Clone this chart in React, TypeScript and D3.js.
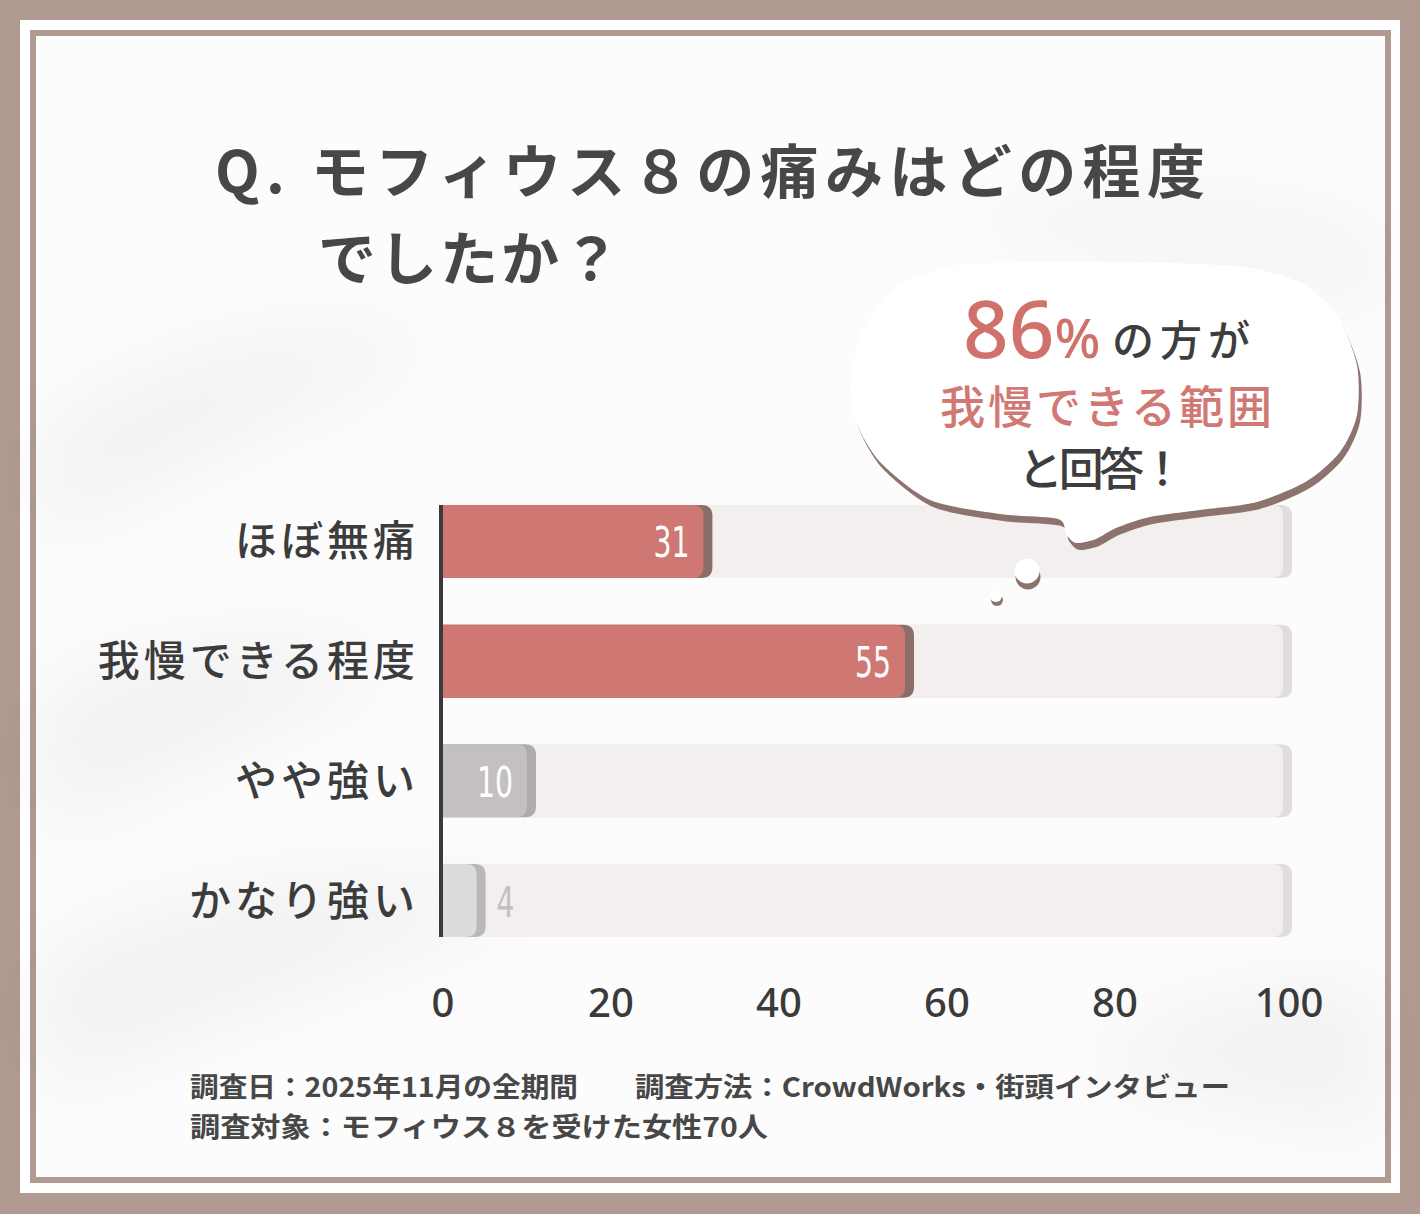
import React from 'react';
import * as d3 from 'd3';

// chart values
const categories = ['ほぼ無痛', '我慢できる程度', 'やや強い', 'かなり強い'];
const values = [31, 55, 10, 4];
const tickValues = [0, 20, 40, 60, 80, 100];

const titleLines = ['Q. モフィウス８の痛みはどの程度', 'でしたか？'];
const footerLine1a = '調査日：2025年11月の全期間';
const footerLine1b = '調査方法：CrowdWorks・街頭インタビュー';
const footerLine2 = '調査対象：モフィウス８を受けた女性70人';

const W = 1420;
const H = 1214;
const JP = '"Noto Sans CJK JP", "Noto Sans", sans-serif';

// bar palette (fill, right-edge shadow)
const barFill = ['#cf7873', '#cf7873', '#c3c0bf', '#dddbdb'];
const barEdge = ['#8c6e69', '#8c6e69', '#adabab', '#b9b7b7'];

// speech bubble outline
const bubblePts: [number, number][] = [
  [850, 385], [864, 328], [902, 284], [960, 265], [1040, 262], [1120, 262],
  [1200, 264], [1256, 269], [1305, 285], [1338, 317], [1357, 365], [1357, 415],
  [1340, 452], [1307, 481], [1257, 502], [1200, 510], [1150, 517], [1116, 528],
  [1096, 539], [1076, 543], [1066, 534], [1058, 519], [1000, 514], [930, 500],
  [880, 462], [856, 422],
];

const App: React.FC = () => {
  const x = d3.scaleLinear().domain([0, 100]).range([443, 1283]);
  const y = d3.scaleBand<string>().domain(categories).range([505, 937]).paddingInner(0.39);
  const bw = y.bandwidth();
  const r = 11;

  // rounded right end, square left end
  const barPath = (x0: number, x1: number, y0: number, h: number) => {
    const rr = Math.min(r, (x1 - x0) / 2);
    return `M${x0},${y0}H${x1 - rr}Q${x1},${y0} ${x1},${y0 + rr}V${y0 + h - rr}Q${x1},${y0 + h} ${x1 - rr},${y0 + h}H${x0}Z`;
  };

  const bubble = d3.line().curve(d3.curveCardinalClosed.tension(0.2))(bubblePts) || '';

  return (
    <svg width={W} height={H} style={{ position: 'absolute', left: 0, top: 0, display: 'block' }}>
      <defs>
        <filter id="soft" x="-50%" y="-50%" width="200%" height="200%">
          <feGaussianBlur stdDeviation="40" />
        </filter>
      </defs>

      {/* frame */}
      <rect x={0} y={0} width={W} height={H} fill="#b09a92" />
      <rect x={20} y={20} width={1380} height={1173} fill="#ffffff" />
      <rect x={33} y={33} width={1355} height={1147} fill="#fcfcfc" stroke="#b09a92" strokeWidth={6} />

      {/* faint leaf shadows */}
      <g filter="url(#soft)" opacity={0.045} fill="#000">
        <path d="M40,440 C160,350 300,320 440,340 C330,400 200,450 40,540 Z" />
        <path d="M40,700 C150,640 280,630 400,660 C280,730 150,780 40,830 Z" />
        <path d="M40,960 C200,880 380,860 540,900 C380,960 200,1030 40,1090 Z" />
        <path d="M1080,1060 C1200,1000 1300,980 1380,990 L1380,1130 C1290,1110 1200,1100 1080,1060 Z" />
        <path d="M950,220 C1080,190 1220,200 1380,240 L1380,300 C1220,270 1080,250 950,220 Z" />
      </g>

      {/* title */}
      <g fontFamily={JP} fontWeight={700} fill="#474747" fontSize={58}>
        <text x={215} y={193} textLength={990} lengthAdjust="spacing">{titleLines[0]}</text>
        <text x={318} y={280} textLength={302} lengthAdjust="spacing">{titleLines[1]}</text>
      </g>

      {/* tracks */}
      {categories.map((c) => (
        <g key={`t-${c}`}>
          <path d={barPath(443, x(100) + 9, y(c)!, bw)} fill="#e0dddc" />
          <path d={barPath(443, x(100), y(c)!, bw)} fill="#f2efee" />
        </g>
      ))}

      {/* bars */}
      {categories.map((c, i) => {
        const v = values[i];
        const inside = v >= 10;
        const cy = y(c)! + bw / 2;
        const digits = String(v).length;
        return (
          <g key={`b-${c}`}>
            <path d={barPath(443, x(v) + 9, y(c)!, bw)} fill={barEdge[i]} />
            <path d={barPath(443, x(v), y(c)!, bw)} fill={barFill[i]} />
            <text
              x={inside ? x(v) - 14 - digits * 18 : x(v) + 20}
              y={cy + 16}
              fontFamily='"DejaVu Sans", sans-serif'
              fontSize={42}
              textLength={digits * 18}
              lengthAdjust="spacingAndGlyphs"
              fill={inside ? '#ffffff' : '#c3bfbe'}
            >
              {v}
            </text>
          </g>
        );
      })}

      {/* axis line */}
      <line x1={441} x2={441} y1={505} y2={937} stroke="#3a3a3a" strokeWidth={4} />

      {/* category labels */}
      <g fontFamily={JP} fontWeight={500} fill="#3c3c3c" fontSize={42} textAnchor="end">
        {categories.map((c) => (
          <text key={`l-${c}`} x={419} y={y(c)! + bw / 2 + 15} letterSpacing={4}>
            {c}
          </text>
        ))}
      </g>

      {/* x tick labels */}
      <g fontFamily='"Noto Sans", sans-serif' fontWeight={500} fill="#3a3a3a" fontSize={40} textAnchor="middle">
        {tickValues.map((t) => (
          <text key={`x-${t}`} x={x(t) + (t === 100 ? 6 : 0)} y={1017}>
            {t}
          </text>
        ))}
      </g>

      {/* speech bubble */}
      <g>
        <path d={bubble} fill="#8c736d" transform="translate(3,7)" />
        <path d={bubble} fill="#ffffff" />
        <circle cx={1028} cy={577} r={12.5} fill="#8c736d" />
        <circle cx={1027} cy={571} r={12.5} fill="#ffffff" />
        <circle cx={997} cy={600} r={6} fill="#8c736d" />
        <circle cx={996} cy={596} r={6} fill="#ffffff" />
        <text x={963} y={358} fontFamily='"Noto Sans", sans-serif' fontWeight={500} fill="#d0716b">
          <tspan fontSize={80}>86</tspan>
          <tspan fontSize={54}>%</tspan>
        </text>
        <text x={1112} y={356} fontFamily={JP} fontWeight={500} fill="#3d3d3d" fontSize={42} textLength={138} lengthAdjust="spacing">
          の方が
        </text>
        <text x={940} y={424} fontFamily={JP} fontWeight={500} fill="#d07873" fontSize={45} textLength={332} lengthAdjust="spacing">
          我慢できる範囲
        </text>
        <text x={1018} y={486} fontFamily={JP} fontWeight={500} fill="#3d3d3d" fontSize={45} textLength={167} lengthAdjust="spacing">
          と回答！
        </text>
      </g>

      {/* footer */}
      <g fontFamily={JP} fontWeight={700} fill="#474747" fontSize={27}>
        <text x={190} y={1097} textLength={388} lengthAdjust="spacingAndGlyphs">{footerLine1a}</text>
        <text x={635} y={1097} textLength={595} lengthAdjust="spacingAndGlyphs">{footerLine1b}</text>
        <text x={190} y={1137} textLength={578} lengthAdjust="spacingAndGlyphs">{footerLine2}</text>
      </g>
    </svg>
  );
};

export default App;
